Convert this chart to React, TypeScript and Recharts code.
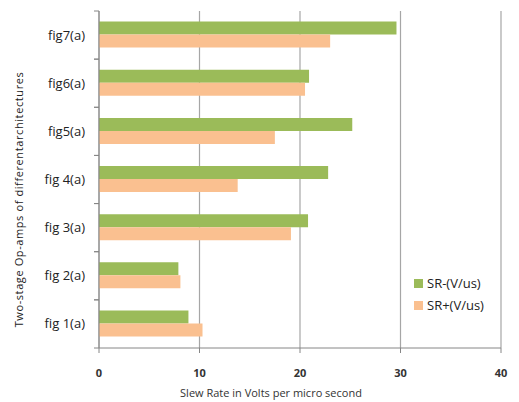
import React from 'react';
import {
  BarChart,
  Bar,
  XAxis,
  YAxis,
  CartesianGrid,
} from 'recharts';

const categories = ['fig 1(a)', 'fig 2(a)', 'fig 3(a)', 'fig 4(a)', 'fig5(a)', 'fig6(a)', 'fig7(a)'];
const srMinus = [8.9, 7.9, 20.8, 22.8, 25.2, 20.9, 29.6];
const srPlus = [10.3, 8.1, 19.1, 13.8, 17.5, 20.5, 23.0];
const xTicks = [0, 10, 20, 30, 40];

const data = categories.map((name, i) => ({ name, minus: srMinus[i], plus: srPlus[i] }));

const GREEN = '#9BBB59';
const ORANGE = '#FAC090';
const AXIS = '#868686';
const FONT = '"Open Sans", "Liberation Sans", sans-serif';

// plot band height: (348 - 11) / 7
const HALF_BAND = 337 / 7 / 2;

const CategoryTick = (props: any) => {
  const { x, y, payload } = props;
  return (
    <g>
      <line x1={x + 3} x2={x + 8} y1={y - HALF_BAND} y2={y - HALF_BAND} stroke={AXIS} />
      <line x1={x + 3} x2={x + 8} y1={y + HALF_BAND} y2={y + HALF_BAND} stroke={AXIS} />
      <text x={x - 6} y={y} dy="0.35em" textAnchor="end" fontSize={13} fill="#222" fontFamily={FONT}>
        {payload.value}
      </text>
    </g>
  );
};

const legendItems = [
  { label: 'SR-(V/us)', color: GREEN },
  { label: 'SR+(V/us)', color: ORANGE },
];

export default function App() {
  return (
    <div style={{ position: 'absolute', left: 0, top: 0, width: 519, height: 402, background: '#fff', overflow: 'hidden' }}>
      <BarChart
        width={519}
        height={402}
        data={data}
        layout="vertical"
        margin={{ top: 11, right: 18, bottom: 0, left: 0 }}
        barCategoryGap="22%"
        barGap={0}
      >
        <CartesianGrid horizontal={false} stroke="#a6a6a6" strokeWidth={1.2} />
        <XAxis
          type="number"
          domain={[0, 40]}
          ticks={xTicks}
          height={54}
          stroke={AXIS}
          tickSize={5}
          tickMargin={16}
          tick={{ fontSize: 11, fontWeight: 700, fill: '#333', fontFamily: FONT }}
          label={{
            value: 'Slew Rate in Volts per micro second',
            position: 'insideBottom',
            dx: -29,
            dy: 0,
            fontSize: 11,
            fill: '#333',
            fontFamily: FONT,
          }}
        />
        <YAxis
          type="category"
          dataKey="name"
          reversed
          width={99}
          stroke={AXIS}
          tickLine={false}
          tick={<CategoryTick />}
          label={{
            value: 'Two-stage  Op-amps of  differentarchitectures',
            angle: -90,
            position: 'insideLeft',
            dx: 14,
            dy: 20,
            fontSize: 11,
            fill: '#222',
            fontFamily: FONT,
            style: { letterSpacing: '0.6px', textAnchor: 'middle' },
          }}
        />
        <Bar dataKey="minus" name="SR-(V/us)" fill={GREEN} isAnimationActive={false} />
        <Bar dataKey="plus" name="SR+(V/us)" fill={ORANGE} isAnimationActive={false} />
      </BarChart>
      <div style={{ position: 'absolute', left: 414, top: 272, fontFamily: FONT, fontSize: 13, color: '#222' }}>
        {legendItems.map((item) => (
          <div key={item.label} style={{ display: 'flex', alignItems: 'center', height: 22 }}>
            <span style={{ display: 'inline-block', width: 9, height: 9, background: item.color, marginRight: 4 }} />
            <span>{item.label}</span>
          </div>
        ))}
      </div>
    </div>
  );
}
